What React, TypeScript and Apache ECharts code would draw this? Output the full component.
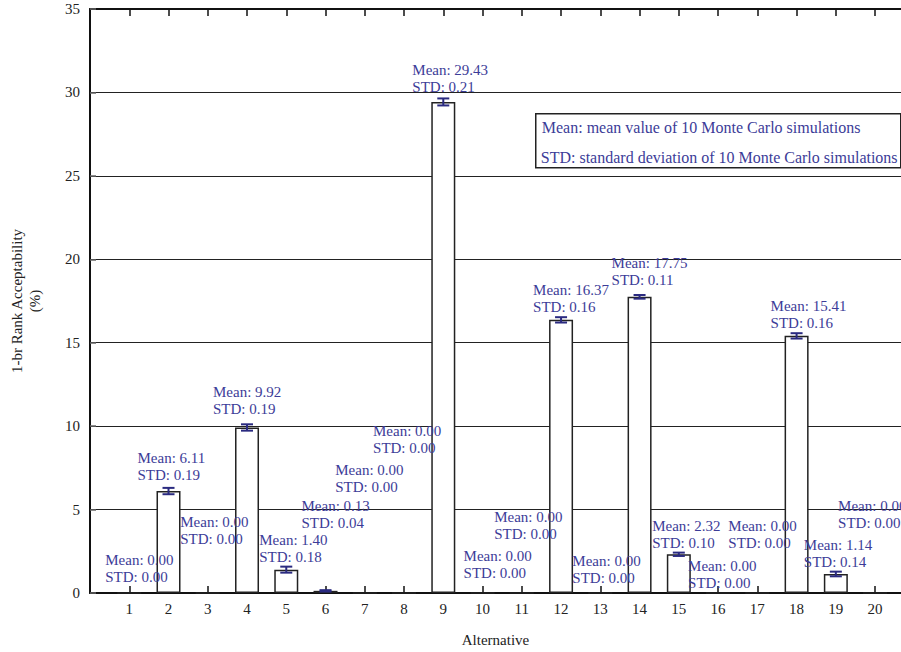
import React, { useEffect, useRef } from "react";
import * as echarts from "echarts";

const alternatives = [1, 2, 3, 4, 5, 6, 7, 8, 9, 10, 11, 12, 13, 14, 15, 16, 17, 18, 19, 20];
const means = [0, 6.11, 0, 9.92, 1.4, 0.13, 0, 0, 29.43, 0, 0, 16.37, 0, 17.75, 2.32, 0, 0, 15.41, 1.14, 0];
const stds = [0, 0.19, 0, 0.19, 0.18, 0.04, 0, 0, 0.21, 0, 0, 0.16, 0, 0.11, 0.1, 0, 0, 0.16, 0.14, 0];
const legendLines = [
  "Mean: mean value of 10 Monte Carlo simulations",
  "STD: standard deviation of 10 Monte Carlo simulations",
];

// annotation placement (pixels, relative to the bar's mean point)
const labelDx = [-24, -31, -27.5, -34, -27, -24, -29.5, -31, -31, -19, -27.6, -28, -28, -28, -26.6, -30, -29, -26, -32, -37];
const labelDy = [-33, -33, -71, -35.5, -29.6, -85, -123, -162, -32, -37, -76, -30, -32, -34, -28, -27, -67, -30, -29, -87];

const FONT = "'Liberation Serif', 'DejaVu Serif', serif";
const TXT = "#3c3c98";
const ERR = "#2a2a80";
const X_MAX = 20.66;

export default function App() {
  const ref = useRef<HTMLDivElement>(null);
  useEffect(() => {
    if (!ref.current) return;
    const chart = echarts.init(ref.current, undefined, { renderer: "svg" });
    const axisLabelStyle = { fontFamily: FONT, fontSize: 15, color: "#222" };
    chart.setOption({
      animation: false,
      backgroundColor: "#fff",
      grid: { left: 90, right: 0, top: 9, bottom: 59, containLabel: false, outerBoundsMode: "none" },
      xAxis: [
        {
          type: "value",
          position: "bottom",
          min: 0,
          max: X_MAX,
          axisLine: { show: true, lineStyle: { color: "#111", width: 2 } },
          axisTick: { show: true, inside: true, length: 7, customValues: alternatives, lineStyle: { color: "#111", width: 1.5 } },
          axisLabel: { customValues: alternatives, margin: 8, ...axisLabelStyle },
          splitLine: { show: false },
          name: "Alternative",
          nameLocation: "middle",
          nameGap: 39,
          nameTextStyle: { fontFamily: FONT, fontSize: 15, color: "#222" },
        },
        {
          type: "value",
          position: "top",
          min: 0,
          max: X_MAX,
          axisLine: { show: true, lineStyle: { color: "#111", width: 2 } },
          axisTick: { show: true, inside: true, length: 7, customValues: alternatives, lineStyle: { color: "#111", width: 1.5 } },
          axisLabel: { show: false },
          splitLine: { show: false },
        },
      ],
      yAxis: {
        type: "value",
        min: 0,
        max: 35,
        interval: 5,
        axisLine: { show: true, lineStyle: { color: "#111", width: 2 } },
        axisTick: { show: true, inside: true, length: 6, lineStyle: { color: "#666", width: 1.5 } },
        axisLabel: { margin: 10, ...axisLabelStyle },
        splitLine: { show: true, lineStyle: { color: "#222", width: 1.2 } },
        name: "1-br Rank Acceptability\n(%)",
        nameLocation: "middle",
        nameRotate: 90,
        nameGap: 46,
        nameTextStyle: { fontFamily: FONT, fontSize: 15, color: "#222", lineHeight: 18 },
      },
      graphic: [
        {
          type: "group",
          left: 535,
          top: 113,
          z: 100,
          children: [
            { type: "rect", shape: { x: 0, y: 0, width: 365, height: 54 }, style: { fill: "#fff", stroke: "#222", lineWidth: 1.5 } },
            { type: "text", x: 6, y: 14, style: { text: legendLines[0], fill: TXT, font: `16px ${FONT}`, textVerticalAlign: "middle" } },
            { type: "text", x: 5, y: 44, style: { text: legendLines[1], fill: TXT, font: `16px ${FONT}`, textVerticalAlign: "middle" } },
          ],
        },
      ],
      series: [
        {
          type: "bar",
          xAxisIndex: 0,
          data: alternatives.map((a, i) => [a, means[i]]),
          barWidth: 24,
          itemStyle: { color: "#fff", borderColor: "#222", borderWidth: 1.5 },
          z: 3,
        },
        {
          type: "custom",
          xAxisIndex: 0,
          z: 5,
          encode: { x: 0, y: 1 },
          data: alternatives.map((a, i) => [a, means[i], stds[i]]),
          renderItem: (params: any, api: any) => {
            const x = api.value(0);
            const m = api.value(1);
            const s = api.value(2);
            if (!s) return null;
            const lo = api.coord([x, m - s]);
            const hi = api.coord([x, m + s]);
            const hw = 6;
            const st = { stroke: ERR, lineWidth: 2 };
            return {
              type: "group",
              children: [
                { type: "line", shape: { x1: lo[0], y1: lo[1], x2: hi[0], y2: hi[1] }, style: st },
                { type: "line", shape: { x1: lo[0] - hw, y1: lo[1], x2: lo[0] + hw, y2: lo[1] }, style: st },
                { type: "line", shape: { x1: hi[0] - hw, y1: hi[1], x2: hi[0] + hw, y2: hi[1] }, style: st },
              ],
            };
          },
        },
        {
          type: "custom",
          xAxisIndex: 0,
          z: 10,
          clip: false,
          encode: { x: 0, y: 1 },
          data: alternatives.map((a, i) => [a, means[i], stds[i]]),
          renderItem: (params: any, api: any) => {
            const i = params.dataIndex;
            const x = api.value(0);
            const m = api.value(1);
            const s = api.value(2);
            const p = api.coord([x, m]);
            return {
              type: "text",
              x: p[0] + labelDx[i],
              y: p[1] + labelDy[i] - 8.5,
              style: {
                text: `Mean: ${m.toFixed(2)}\nSTD: ${s.toFixed(2)}`,
                fill: TXT,
                font: `15px ${FONT}`,
                lineHeight: 17,
                textAlign: "left",
                textVerticalAlign: "top",
              },
            };
          },
        },
      ],
    });
    return () => chart.dispose();
  }, []);
  return <div ref={ref} style={{ position: "fixed", left: 0, top: 0, width: 901, height: 652 }} />;
}
